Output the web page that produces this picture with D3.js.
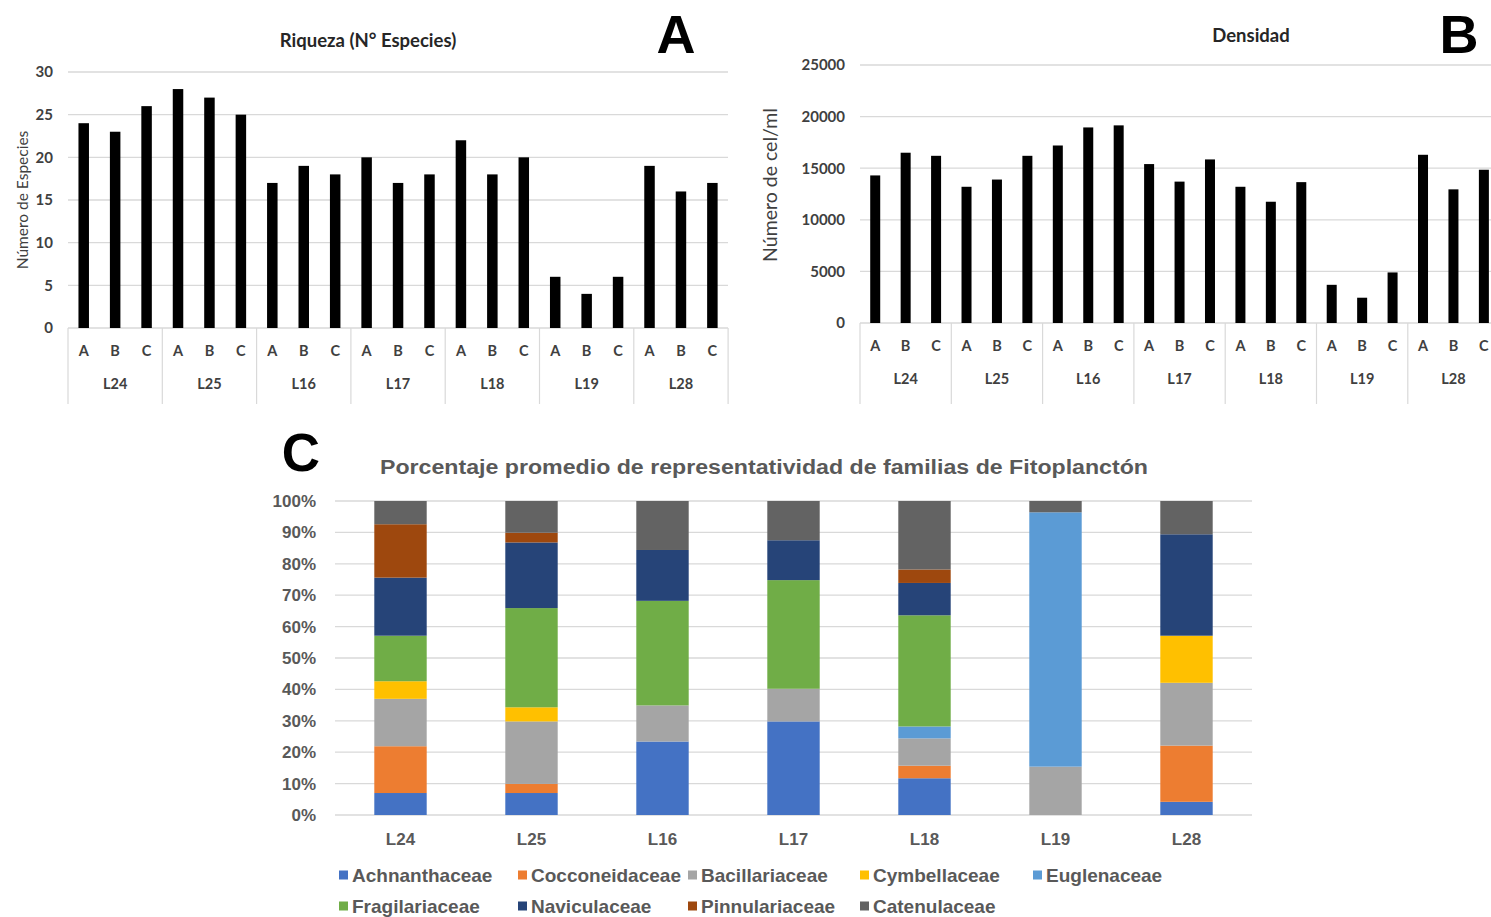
<!DOCTYPE html>
<html>
<head>
<meta charset="utf-8">
<script src="https://cdn.jsdelivr.net/npm/d3@7"></script>
<style>
  html, body { margin: 0; padding: 0; background: #fff; }
  svg { display: block; }
</style>
</head>
<body>
<svg id="chart" width="1491" height="917"></svg>
<script>
// Sampling sites and replicates
const sites = ["L24", "L25", "L16", "L17", "L18", "L19", "L28"];
const replicates = ["A", "B", "C"];

// Richness (number of species) per site × replicate
const riqueza = [24, 23, 26, 28, 27, 25, 17, 19, 18, 20, 17, 18, 22, 18, 20, 6, 4, 6, 19, 16, 17];
const riquezaTicks = [0, 5, 10, 15, 20, 25, 30];

// Density (cells/ml) per site × replicate
const densidad = [14300, 16500, 16200, 13200, 13900, 16200, 17200, 18950, 19150,
                  15400, 13700, 15850, 13200, 11750, 13650, 3700, 2450, 4900, 16300, 12950, 14850];
const densidadTicks = [0, 5000, 10000, 15000, 20000, 25000];

// Average percentage of each phytoplankton family per site
const families = ["Achnanthaceae", "Cocconeidaceae", "Bacillariaceae", "Cymbellaceae", "Euglenaceae",
                  "Fragilariaceae", "Naviculaceae", "Pinnulariaceae", "Catenulaceae"];
const familyColors = ["#4472C4", "#ED7D31", "#A5A5A5", "#FFC000", "#5B9BD5",
                      "#70AD47", "#264478", "#9E480E", "#636363"];
const achnanthaceae  = [7.0, 7.0, 23.4, 29.8, 11.7, 0, 4.2];
const cocconeidaceae = [14.9, 2.9, 0, 0, 4.0, 0, 17.9];
const bacillariaceae = [15.1, 19.9, 11.5, 10.4, 8.7, 15.4, 20.0];
const cymbellaceae   = [5.6, 4.5, 0, 0, 0, 0, 15.0];
const euglenaceae    = [0, 0, 0, 0, 3.8, 81.0, 0];
const fragilariaceae = [14.5, 31.6, 33.3, 34.6, 35.4, 0, 0];
const naviculaceae   = [18.5, 20.9, 16.2, 12.7, 10.3, 0, 32.3];
const pinnulariaceae = [17.0, 3.1, 0, 0, 4.3, 0, 0];
const catenulaceae   = [7.4, 10.1, 15.6, 12.5, 21.8, 3.6, 10.6];
const pctTicks = [0, 10, 20, 30, 40, 50, 60, 70, 80, 90, 100];

const svg = d3.select("#chart");
const sansCal = "Lato, 'Open Sans', sans-serif";
const sansArial = "'Liberation Sans', Arial, sans-serif";

// ---------- Replicate bar panels (A and B) ----------
function replicatePanel(opts) {
  const g = svg.append("g");
  const keys = [];
  sites.forEach(s => replicates.forEach(r => keys.push(s + "-" + r)));
  const rows = keys.map((k, i) => ({ key: k, site: k.split("-")[0], rep: k.split("-")[1], value: opts.values[i] }));

  const x = d3.scaleBand().domain(keys).range([opts.x0, opts.x0 + opts.groupW * sites.length]);
  const y = d3.scaleLinear().domain([0, d3.max(opts.ticks)]).range([opts.y0, opts.y1]);

  // horizontal gridlines
  g.append("g").selectAll("line").data(opts.ticks).join("line")
    .attr("x1", opts.x0).attr("x2", opts.gridEnd)
    .attr("y1", d => y(d)).attr("y2", d => y(d))
    .attr("stroke", "#d9d9d9").attr("stroke-width", 1.3);

  // y axis labels
  const yAxis = d3.axisLeft(y).tickValues(opts.ticks).tickSize(0).tickPadding(0).tickFormat(d3.format("d"));
  const ya = g.append("g").attr("transform", `translate(${opts.labelRight},0)`).call(yAxis);
  ya.select(".domain").remove();
  ya.selectAll("text").attr("font-family", sansCal)
    .attr("font-weight", "bold").attr("font-size", opts.tickSize).attr("fill", "#404040");

  // bars
  g.append("g").selectAll("rect").data(rows).join("rect")
    .attr("x", d => x(d.key) + (x.bandwidth() - opts.barW) / 2)
    .attr("width", opts.barW)
    .attr("y", d => y(d.value))
    .attr("height", d => y(0) - y(d.value))
    .attr("fill", "#000");

  // multi-level category axis
  g.append("g").selectAll("text").data(rows).join("text")
    .attr("x", d => x(d.key) + x.bandwidth() / 2)
    .attr("y", opts.repY)
    .attr("text-anchor", "middle")
    .attr("font-family", sansCal)
    .attr("font-weight", "bold").attr("font-size", 14.5).attr("fill", "#404040")
    .text(d => d.rep);

  const gx = d3.scaleBand().domain(sites).range([opts.x0, opts.x0 + opts.groupW * sites.length]);
  g.append("g").selectAll("text").data(sites).join("text")
    .attr("x", d => gx(d) + gx.bandwidth() / 2)
    .attr("y", opts.siteY)
    .attr("text-anchor", "middle")
    .attr("font-family", sansCal)
    .attr("font-weight", "bold").attr("font-size", 14.5).attr("fill", "#404040")
    .text(d => d);

  const bounds = sites.map(s => gx(s)).concat([gx(sites[sites.length - 1]) + gx.bandwidth()]);
  g.append("g").selectAll("line").data(bounds).join("line")
    .attr("x1", d => d).attr("x2", d => d)
    .attr("y1", opts.y0).attr("y2", opts.sepEnd)
    .attr("stroke", "#d9d9d9").attr("stroke-width", 1.2);

  // titles
  g.append("text").attr("x", opts.titleX).attr("y", opts.titleY)
    .attr("text-anchor", "middle")
    .attr("font-family", sansCal)
    .attr("font-weight", "bold").attr("font-size", 18.5).attr("fill", "#262626")
    .text(opts.title);

  g.append("text")
    .attr("transform", `translate(${opts.yTitleX},${opts.yTitleY}) rotate(-90)`)
    .attr("text-anchor", "middle")
    .attr("font-family", sansCal)
    .attr("font-weight", opts.yTitleWeight).attr("font-size", opts.yTitleSize).attr("fill", "#404040")
    .text(opts.yTitle);

  g.append("text").attr("x", opts.letterX).attr("y", 53)
    .attr("text-anchor", "middle")
    .attr("font-family", sansArial)
    .attr("font-weight", "bold").attr("font-size", 54).attr("fill", "#000")
    .text(opts.letter);
}

replicatePanel({
  values: riqueza, ticks: riquezaTicks,
  x0: 68, groupW: 94.3, y0: 328, y1: 72, gridEnd: 728, barW: 10.5,
  labelRight: 53, tickSize: 15, repY: 356, siteY: 389, sepEnd: 404,
  title: "Riqueza (N° Especies)", titleX: 368, titleY: 47,
  yTitle: "Número de Especies", yTitleX: 28, yTitleY: 200, yTitleSize: 15.5, yTitleWeight: "normal",
  letter: "A", letterX: 676
});

replicatePanel({
  values: densidad, ticks: densidadTicks,
  x0: 860, groupW: 91.3, y0: 323, y1: 65, gridEnd: 1491, barW: 10,
  labelRight: 845, tickSize: 15, repY: 351, siteY: 384, sepEnd: 404,
  title: "Densidad", titleX: 1251, titleY: 42,
  yTitle: "Número de cel/ml", yTitleX: 777, yTitleY: 185, yTitleSize: 19.5, yTitleWeight: "normal",
  letter: "B", letterX: 1459
});

// ---------- Stacked percentage panel (C) ----------
(function () {
  const g = svg.append("g");
  const series = [achnanthaceae, cocconeidaceae, bacillariaceae, cymbellaceae, euglenaceae,
                  fragilariaceae, naviculaceae, pinnulariaceae, catenulaceae];
  const table = sites.map((s, i) => {
    const row = { site: s };
    families.forEach((f, j) => { row[f] = series[j][i]; });
    return row;
  });
  const stacked = d3.stack().keys(families).offset(d3.stackOffsetExpand)(table);

  const x = d3.scaleBand().domain(sites).range([335, 1252]).paddingInner(0.6).paddingOuter(0.3);
  const y = d3.scaleLinear().domain([0, 1]).range([815, 501]);
  const color = d3.scaleOrdinal().domain(families).range(familyColors);

  g.append("g").selectAll("line").data(pctTicks).join("line")
    .attr("x1", 335).attr("x2", 1252)
    .attr("y1", d => y(d / 100)).attr("y2", d => y(d / 100))
    .attr("stroke", "#d9d9d9").attr("stroke-width", 1.3);

  const ya = g.append("g").attr("transform", "translate(316,0)")
    .call(d3.axisLeft(y).tickValues(pctTicks.map(d => d / 100)).tickSize(0).tickPadding(0)
      .tickFormat(d => Math.round(d * 100) + "%"));
  ya.select(".domain").remove();
  ya.selectAll("text").attr("font-family", sansArial)
    .attr("font-weight", "bold").attr("font-size", 17).attr("fill", "#595959");

  g.append("g").selectAll("g").data(stacked).join("g")
    .attr("fill", d => color(d.key))
    .selectAll("rect").data(d => d).join("rect")
    .attr("x", d => x(d.data.site))
    .attr("width", x.bandwidth())
    .attr("y", d => y(d[1]))
    .attr("height", d => y(d[0]) - y(d[1]));

  const xa = g.append("g").attr("transform", "translate(0,815)")
    .call(d3.axisBottom(x).tickSize(0).tickPadding(18));
  xa.select(".domain").remove();
  xa.selectAll("text").attr("font-family", sansArial)
    .attr("font-weight", "bold").attr("font-size", 17).attr("fill", "#595959");

  g.append("text").attr("x", 764).attr("y", 474).attr("text-anchor", "middle")
    .attr("font-family", sansArial)
    .attr("font-weight", "bold").attr("font-size", 20).attr("fill", "#595959")
    .attr("textLength", 768).attr("lengthAdjust", "spacingAndGlyphs")
    .text("Porcentaje promedio de representatividad de familias de Fitoplanctón");

  g.append("text").attr("x", 301).attr("y", 471).attr("text-anchor", "middle")
    .attr("font-family", sansArial)
    .attr("font-weight", "bold").attr("font-size", 53).attr("fill", "#000")
    .text("C");

  // legend: two rows
  const legendX = [339, 518, 688, 860, 1033];
  const legend = g.append("g").selectAll("g").data(families).join("g")
    .attr("transform", (d, i) => `translate(${legendX[i % 5]},${i < 5 ? 875 : 906})`);
  legend.append("rect").attr("x", 0).attr("y", -4.5).attr("width", 9).attr("height", 9)
    .attr("fill", d => color(d));
  legend.append("text").attr("x", 13).attr("y", 0).attr("dy", "0.36em")
    .attr("font-family", sansArial)
    .attr("font-weight", "bold").attr("font-size", 19).attr("fill", "#595959")
    .text(d => d);
})();
</script>
</body>
</html>
